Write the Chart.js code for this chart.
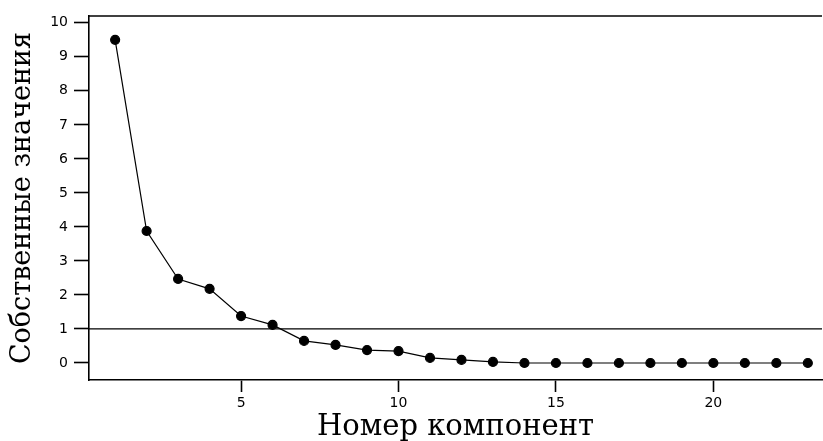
<!DOCTYPE html>
<html>
<head>
<meta charset="utf-8">
<script src="https://cdn.jsdelivr.net/npm/chart.js@4/dist/chart.umd.min.js"></script>
<style>
  html, body { margin: 0; padding: 0; background: #fff; }
  #wrap { width: 823px; height: 441px; }
</style>
</head>
<body>
<div id="wrap"><canvas id="scree"></canvas></div>
<script>
// номера компонент и собственные значения
const components = [1, 2, 3, 4, 5, 6, 7, 8, 9, 10, 11, 12, 13, 14, 15, 16, 17, 18, 19, 20, 21, 22, 23];
const eigenvalues = [9.5, 3.88, 2.47, 2.18, 1.38, 1.12, 0.65, 0.53, 0.38, 0.35, 0.15, 0.09, 0.03, 0, 0, 0, 0, 0, 0, 0, 0, 0, 0];
const xTicks = [5, 10, 15, 20];
const yTicks = [0, 1, 2, 3, 4, 5, 6, 7, 8, 9, 10];
const cutoff = 1;

const points = components.map((c, i) => ({ x: c, y: eigenvalues[i] }));

// рамка сверху и линия отсечения y = 1
const framePlugin = {
  id: 'frame',
  afterDatasetsDraw(chart) {
    const { ctx, chartArea, scales } = chart;
    ctx.save();
    ctx.strokeStyle = '#000';
    ctx.lineWidth = 1.6;
    ctx.beginPath();
    ctx.moveTo(chartArea.left, chartArea.top);
    ctx.lineTo(chartArea.right, chartArea.top);
    ctx.stroke();
    const yc = scales.y.getPixelForValue(cutoff);
    ctx.lineWidth = 1.3;
    ctx.beginPath();
    ctx.moveTo(chartArea.left, yc);
    ctx.lineTo(chartArea.right, yc);
    ctx.stroke();
    ctx.restore();
  }
};

const ctx = document.getElementById('scree').getContext('2d');
const screeChart = new Chart(ctx, {
  type: 'scatter',
  data: {
    datasets: [{
      data: points,
      showLine: true,
      borderColor: '#000',
      borderWidth: 1.2,
      backgroundColor: '#000',
      pointBackgroundColor: '#000',
      pointBorderColor: '#000',
      pointRadius: 4.5,
      tension: 0
    }]
  },
  options: {
    responsive: true,
    maintainAspectRatio: false,
    animation: false,
    layout: { autoPadding: false, padding: { top: 16, right: 1, left: 0, bottom: 0 } },
    plugins: {
      legend: { display: false },
      tooltip: { enabled: false }
    },
    scales: {
      x: {
        type: 'linear',
        min: 0.17,
        max: 23.45,
        afterBuildTicks: axis => { axis.ticks = xTicks.map(v => ({ value: v })); },
        afterFit: axis => { axis.height = 61; },
        grid: { drawOnChartArea: false, tickLength: 12, tickColor: '#000', tickWidth: 1.6 },
        border: { color: '#000', width: 1.6 },
        ticks: { color: '#000', font: { family: 'DejaVu Sans', size: 14 }, padding: 3, maxRotation: 0 },
        title: {
          display: true,
          text: 'Номер компонент',
          color: '#000',
          font: { family: 'DejaVu Serif', size: 29 },
          padding: { top: 0, bottom: -4 }
        }
      },
      y: {
        min: -0.5,
        max: 10.2,
        afterBuildTicks: axis => { axis.ticks = yTicks.map(v => ({ value: v })); },
        afterFit: axis => { axis.width = 89; },
        grid: { drawOnChartArea: false, tickLength: 15, tickColor: '#000', tickWidth: 1.6 },
        border: { color: '#000', width: 1.6 },
        ticks: { color: '#000', font: { family: 'DejaVu Sans', size: 14 }, padding: 6 },
        title: {
          display: true,
          text: 'Собственные значения',
          color: '#000',
          font: { family: 'DejaVu Serif', size: 27 },
          padding: { top: 7, bottom: 0 }
        }
      }
    }
  },
  plugins: [framePlugin]
});
</script>
</body>
</html>
